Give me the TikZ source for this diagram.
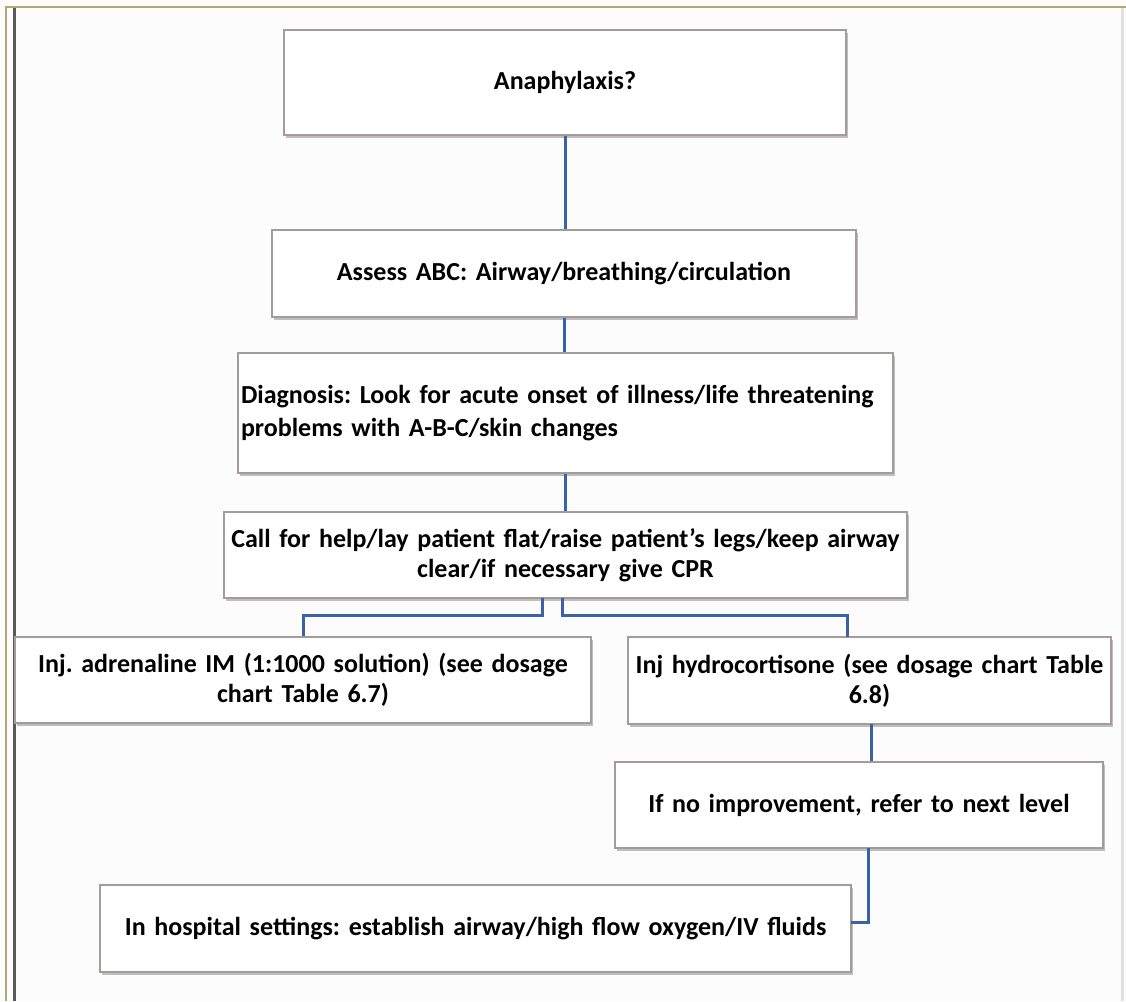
\documentclass[tikz,border=0pt]{standalone}
\usepackage{fontspec}
\setmainfont{Carlito}
\usetikzlibrary{shadows}
\definecolor{bgc}{HTML}{FCFCFC}
\definecolor{olive}{HTML}{B0A870}
\definecolor{boxline}{HTML}{A39C9A}
\definecolor{conn}{HTML}{3A62A8}
\tikzset{
  box/.style={draw=boxline, line width=1.6pt, fill=white, inner xsep=4pt, inner ysep=0pt,
    align=center, font=\fontsize{26}{30}\selectfont\bfseries,
    drop shadow={shadow xshift=1.5pt, shadow yshift=-2.5pt, fill=black!45, opacity=0.55}},
  link/.style={draw=conn, line width=3pt}
}
\begin{document}
\frenchspacing
\begin{tikzpicture}[x=1pt,y=-1pt]
\useasboundingbox (0,0) rectangle (1126,1001);
\fill[bgc] (0,0) rectangle (1126,1001);
% frame
\draw[olive, line width=2.5pt] (5,7) -- (1126,7);
\draw[olive, line width=2.5pt] (6,7) -- (6,1001);
\draw[black!65, line width=3pt] (14,8) -- (14,1001);
\draw[black!12, line width=3pt] (1122,8) -- (1122,1001);
% boxes
\node[box, minimum width=562, minimum height=105, text width=554] (b1) at (565,82.5) {Anaphylaxis?};
\node[box, minimum width=584, minimum height=87, text width=576] (b2) at (564,273.5) {Assess ABC: Airway/breathing/circulation};
\node[box, minimum width=655, minimum height=120, inner xsep=3pt, text width=649, align=left, font=\fontsize{26}{33}\selectfont\bfseries] (b3) at (565.5,413) {Diagnosis: Look for acute onset of illness/life threatening\\problems with A-B-C/skin changes};
\node[box, minimum width=683, minimum height=86, inner xsep=3pt, text width=677] (b4) at (565.5,555) {Call for help/lay patient flat/raise patient’s legs/keep airway\\clear/if necessary give CPR};
\node[box, minimum width=576, minimum height=86, text width=568] (b5) at (303,680) {Inj. adrenaline IM (1:1000 solution) (see dosage\\chart Table 6.7)};
\node[box, minimum width=483, minimum height=87, text width=475] (b6) at (869.5,680.5) {Inj hydrocortisone (see dosage chart Table\\6.8)};
\node[box, minimum width=488, minimum height=86, text width=480] (b7) at (859,805) {If no improvement, refer to next level};
\node[box, minimum width=751, minimum height=87, text width=743] (b8) at (475.5,928.5) {In hospital settings: establish airway/high flow oxygen/IV fluids};
% connector waypoints
\coordinate (s4l) at (542,598);
\coordinate (s4r) at (562,598);
\coordinate (s6) at (871,724);
\coordinate (s7) at (868,848);
\coordinate (e8) at (851,922);
% connectors
\draw[link] (b1.south) -- (b1.south |- b2.north);
\draw[link] (b2.south) -- (b2.south |- b3.north);
\draw[link] (b3.south) -- (b3.south |- b4.north);
\draw[link] (s4l) -- ++(0,17) -| (b5.north);
\draw[link] (s4r) -- ++(0,17) -| (847,637);
\draw[link] (s6) -- (s6 |- b7.north);
\draw[link] (s7) |- (e8);
\end{tikzpicture}
\end{document}
